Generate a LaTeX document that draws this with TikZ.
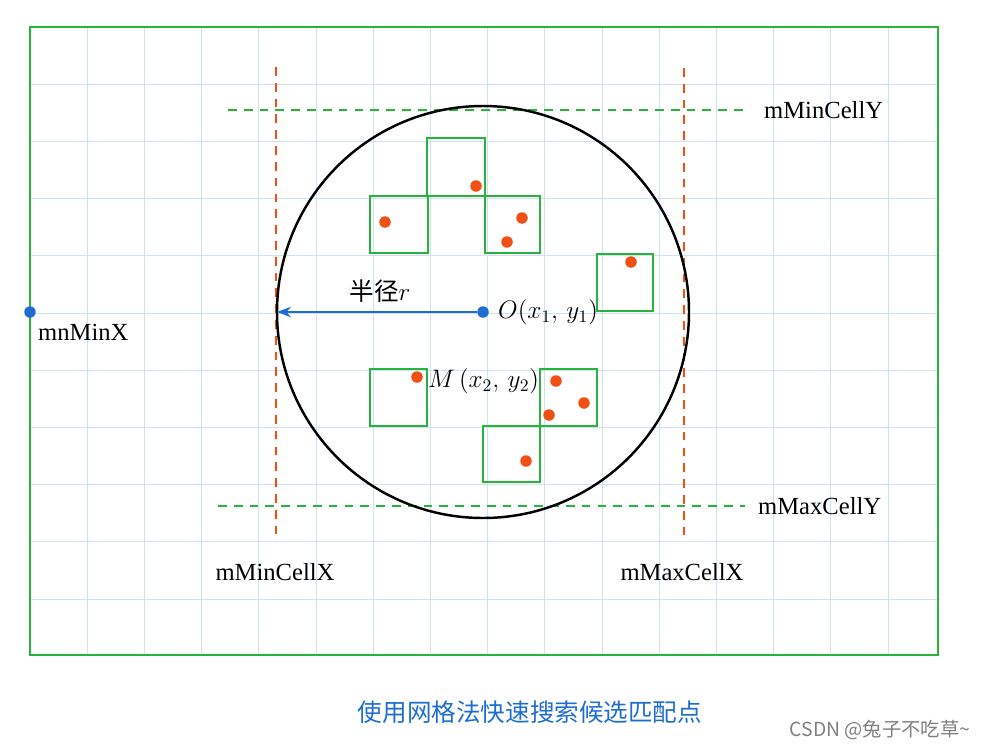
\documentclass[tikz,border=0pt]{standalone}
\usepackage{fontspec}
\setmainfont{Liberation Serif}
\newfontfamily\cjk{Noto Sans CJK SC}
\usetikzlibrary{arrows.meta}
\definecolor{gridc}{RGB}{205,228,238}
\definecolor{frameg}{RGB}{40,180,60}
\definecolor{dotor}{RGB}{240,80,20}
\definecolor{blu}{RGB}{30,110,210}
\begin{document}
\begin{tikzpicture}[x=0.02cm, y=-0.02cm,
    cell/.style={draw=frameg, semithick},
    bound/.style={thick, dash pattern=on 5pt off 4pt},
    pt/.style={circle, fill=dotor, minimum size=0.23cm, inner sep=0pt},
    bpt/.style={circle, fill=blu, minimum size=0.23cm, inner sep=0pt},
    lab/.style={font=\fontsize{14}{16}\selectfont}]
    \useasboundingbox (0,0) rectangle (991,748);

    % Grid and frame
    \foreach \i in {1,...,15} \draw[gridc, thin] (30+57.2*\i,27) -- (30+57.2*\i,655);
    \foreach \j in {1,...,10} \draw[gridc, thin] (30,27+57.2*\j) -- (938,27+57.2*\j);
    \draw[frameg, semithick] (30,27) rectangle (938,655);

    % Cell bounds
    \draw[dotor, bound] (276,67) -- (276,540);
    \draw[dotor, bound] (684,68) -- (684,540);
    \draw[frameg, bound] (228,110) -- (745,110);
    \draw[frameg, bound] (218,506) -- (745,506);
    \node[lab, anchor=west] (miny) at (758,110) {mMinCellY};
    \node[lab, anchor=west] (maxy) at (752,506) {mMaxCellY};
    \node[lab] (minx) at (275,572) {mMinCellX};
    \node[lab] (maxx) at (682,572) {mMaxCellX};

    % Circle
    \draw[line width=1.4pt] (483,312) circle (206);

    % Cells
    \draw[cell] (427,138) rectangle (485,196);
    \draw[cell] (370,196) rectangle (428,253);
    \draw[cell] (485,196) rectangle (540,253);
    \draw[cell] (597,254) rectangle (653,311);
    \draw[cell] (370,369) rectangle (427,426);
    \draw[cell] (540,369) rectangle (597,426);
    \draw[cell] (483,426) rectangle (540,482);

    % Points
    \foreach \x/\y in {476/186, 385/222, 522/218, 507/242, 631/262,
        417/377, 556/381, 584/403, 549/415, 526/461}
        \node[pt] at (\x,\y) {};
    \node[bpt] (minxpt) at (30,312) {};
    \node[bpt] (o) at (483,312) {};
    \coordinate (edge) at (277,312);
    \node[lab, anchor=north west] (mnminx) at (32,318) {mnMinX};

    % Radius
    \draw[blu, thick, -{Stealth[length=8pt]}] (o) -- (edge);
    \node[lab] (r) at (380,291) {{\cjk 半径}$r$};
    \node[lab, anchor=west] (olab) at (492,312) {$O(x_1,\,y_1)$};
    \node[lab, anchor=west] (mlab) at (422,381) {$M\,(x_2,\,y_2)$};

    % Caption
    \node[blu, font=\cjk\fontsize{14}{16}\selectfont] (cap) at (530,712) {使用网格法快速搜索候选匹配点};
    \node[gray, font=\cjk\fontsize{11}{13}\selectfont] (wm) at (880,730) {CSDN @兔子不吃草\textasciitilde};
\end{tikzpicture}
\end{document}
